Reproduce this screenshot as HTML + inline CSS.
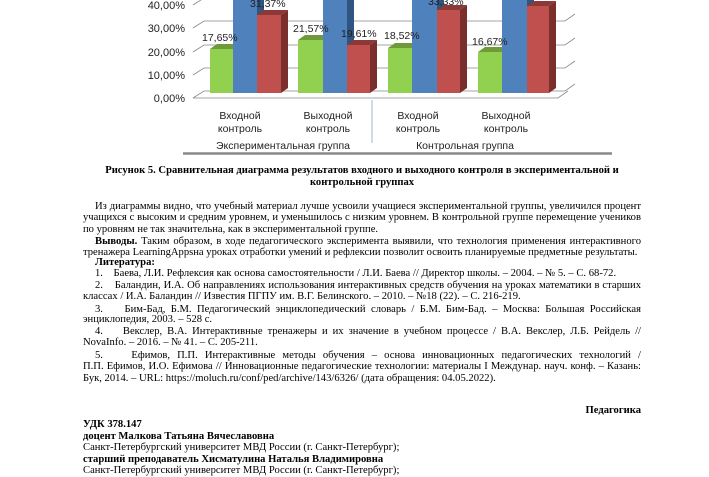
<!DOCTYPE html>
<html><head><meta charset="utf-8"><style>
body{margin:0;width:709px;height:470px;overflow:hidden;background:#fff;position:relative;font-family:"Liberation Serif","Noto Serif CJK SC",serif;font-size:10.6px;color:#000}
.l{position:absolute;left:83px;width:558px;white-space:nowrap;line-height:12px}
.j{text-align:justify;text-align-last:justify}
.b{font-weight:bold}
</style></head><body>
<svg width="709" height="160" style="position:absolute;left:0;top:0" font-family="Liberation Sans, sans-serif" font-size="11">
<g stroke="#888" stroke-width="0.8" fill="none">
<path d="M193 98 L204 91 L565 91 L575 84 M193 75 L204 68 L565 68 L575 61 M193 52 L204 45 L565 45 L575 38 M193 28 L204 21 L565 21 L575 14 M193 5 L204 -2 L565 -2"/>
<path d="M193 98 L558 98 L568 91"/>
</g>
<g fill="#222" text-anchor="end"><text x="185" y="9">40,00%</text><text x="185" y="32">30,00%</text><text x="185" y="56">20,00%</text><text x="185" y="79">10,00%</text><text x="185" y="102">0,00%</text></g>
<g>
<path d="M210 49 L217 44 L240 44 L233 49Z" fill="#6f9a3a"/><rect x="210" y="49" width="23" height="44" fill="#92d050"/>
<rect x="233" y="-5" width="24" height="98" fill="#4f81bd"/><path d="M257 -5 L264 -10 L264 88 L257 93Z" fill="#2f5580"/>
<path d="M257 15 L264 10 L288 10 L281 15Z" fill="#8c3836"/><rect x="257" y="15" width="24" height="78" fill="#c0504d"/><path d="M281 15 L288 10 L288 88 L281 93Z" fill="#7a2f2d"/>

<path d="M298 40 L305 35 L330 35 L323 40Z" fill="#6f9a3a"/><rect x="298" y="40" width="25" height="53" fill="#92d050"/>
<rect x="323" y="-5" width="24" height="98" fill="#4f81bd"/><path d="M347 -5 L354 -10 L354 88 L347 93Z" fill="#2f5580"/>
<path d="M347 45 L354 40 L377 40 L370 45Z" fill="#8c3836"/><rect x="347" y="45" width="23" height="48" fill="#c0504d"/><path d="M370 45 L377 40 L377 88 L370 93Z" fill="#7a2f2d"/>

<path d="M388 48 L395 43 L419 43 L412 48Z" fill="#6f9a3a"/><rect x="388" y="48" width="24" height="45" fill="#92d050"/>
<rect x="412" y="-5" width="25" height="98" fill="#4f81bd"/><path d="M437 -5 L444 -10 L444 88 L437 93Z" fill="#2f5580"/>
<path d="M437 10 L444 5 L467 5 L460 10Z" fill="#8c3836"/><rect x="437" y="10" width="23" height="83" fill="#c0504d"/><path d="M460 10 L467 5 L467 88 L460 93Z" fill="#7a2f2d"/>

<path d="M478 52 L485 47 L509 47 L502 52Z" fill="#6f9a3a"/><rect x="478" y="52" width="24" height="41" fill="#92d050"/>
<rect x="502" y="-5" width="25" height="98" fill="#4f81bd"/><path d="M527 -5 L534 -10 L534 88 L527 93Z" fill="#2f5580"/>
<path d="M527 6 L534 1 L556 1 L549 6Z" fill="#8c3836"/><rect x="527" y="6" width="22" height="87" fill="#c0504d"/><path d="M549 6 L556 1 L556 88 L549 93Z" fill="#7a2f2d"/>
</g>
<g fill="#222" font-size="10.5">
<text x="202" y="41">17,65%</text><text x="250" y="7">31,37%</text><text x="293" y="32">21,57%</text><text x="341" y="37">19,61%</text><text x="384" y="39">18,52%</text><text x="428" y="5">33,33%</text><text x="472" y="45">16,67%</text>
</g>
<line x1="372" y1="100" x2="372" y2="143" stroke="#8aa3c8" stroke-width="0.8"/>
<g fill="#222" font-size="10.5" text-anchor="middle">
<text x="240" y="119">Входной</text><text x="240" y="132">контроль</text>
<text x="328" y="119">Выходной</text><text x="328" y="132">контроль</text>
<text x="418" y="119">Входной</text><text x="418" y="132">контроль</text>
<text x="506" y="119">Выходной</text><text x="506" y="132">контроль</text>
<text x="283" y="149">Экспериментальная группа</text><text x="465" y="149">Контрольная группа</text>
</g>
<line x1="183" y1="153.5" x2="612" y2="153.5" stroke="#8a8a8a" stroke-width="2.5"/>
</svg>
<div class="l b" style="top:165px;text-align:center">Рисунок 5. Сравнительная диаграмма результатов входного и выходного контроля в экспериментальной и</div>
<div class="l b" style="top:177px;text-align:center">контрольной группах</div>
<div class="l j" style="top:201px;padding-left:12px;width:546px">Из диаграммы видно, что учебный материал лучше усвоили учащиеся экспериментальной группы, увеличился процент</div>
<div class="l j" style="top:212px">учащихся с высоким и средним уровнем, и уменьшилось с низким уровнем. В контрольной группе перемещение учеников</div>
<div class="l" style="top:224px">по уровням не так значительна, как в экспериментальной группе.</div>
<div class="l j" style="top:236px;padding-left:12px;width:546px"><b>Выводы.</b> Таким образом, в ходе педагогического эксперимента выявили, что технология применения интерактивного</div>
<div class="l" style="top:247px">тренажера LearningAppsна уроках отработки умений и рефлексии позволит освоить планируемые предметные результаты.</div>
<div class="l b" style="top:257px;padding-left:12px">Литература:</div>
<div class="l" style="top:268px;padding-left:12px">1.&nbsp;&nbsp;&nbsp;&nbsp;Баева, Л.И. Рефлексия как основа самостоятельности / Л.И. Баева // Директор школы. – 2004. – № 5. – С. 68-72.</div>
<div class="l j" style="top:280px;padding-left:12px;width:546px">2.&nbsp;&nbsp;&nbsp;&nbsp;Баландин, И.А. Об направлениях использования интерактивных средств обучения на уроках математики в старших</div>
<div class="l" style="top:291px">классах / И.А. Баландин // Известия ПГПУ им. В.Г. Белинского. – 2010. – №18 (22). – С. 216-219.</div>
<div class="l j" style="top:304px;padding-left:12px;width:546px">3.&nbsp;&nbsp;&nbsp;&nbsp;Бим-Бад, Б.М. Педагогический энциклопедический словарь / Б.М. Бим-Бад. – Москва: Большая Российская</div>
<div class="l" style="top:314px">энциклопедия, 2003. – 528 с.</div>
<div class="l j" style="top:326px;padding-left:12px;width:546px">4.&nbsp;&nbsp;&nbsp;&nbsp;Векслер, В.А. Интерактивные тренажеры и их значение в учебном процессе / В.А. Векслер, Л.Б. Рейдель //</div>
<div class="l" style="top:337px">NovaInfo. – 2016. – № 41. – С. 205-211.</div>
<div class="l j" style="top:350px;padding-left:12px;width:546px">5.&nbsp;&nbsp;&nbsp;&nbsp;Ефимов, П.П. Интерактивные методы обучения – основа инновационных педагогических технологий /</div>
<div class="l j" style="top:361px">П.П. Ефимов, И.О. Ефимова // Инновационные педагогические технологии: материалы I Междунар. науч. конф. – Казань:</div>
<div class="l" style="top:373px">Бук, 2014. – URL: https://moluch.ru/conf/ped/archive/143/6326/ (дата обращения: 04.05.2022).</div>
<div class="l b" style="top:405px;text-align:right">Педагогика</div>
<div class="l b" style="top:419px">УДК 378.147</div>
<div class="l b" style="top:431px">доцент Малкова Татьяна Вячеславовна</div>
<div class="l" style="top:442px">Санкт-Петербургский университет МВД России (г. Санкт-Петербург);</div>
<div class="l b" style="top:454px">старший преподаватель Хисматулина Наталья Владимировна</div>
<div class="l" style="top:465px">Санкт-Петербургский университет МВД России (г. Санкт-Петербург);</div>
</body></html>
